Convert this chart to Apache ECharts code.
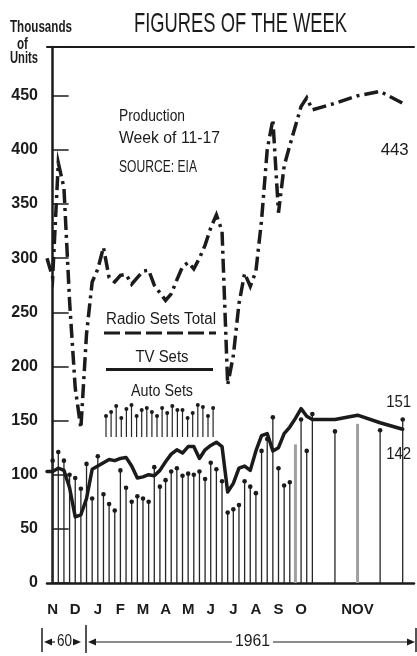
<!DOCTYPE html>
<html>
<head>
<meta charset="utf-8">
<title>Figures of the Week</title>
<script src="https://cdn.jsdelivr.net/npm/echarts@6.0.0/dist/echarts.min.js"></script>
<style>
  html, body { margin: 0; padding: 0; background: #ffffff; }
  #chart { width: 417px; height: 656px; }
</style>
</head>
<body>
<div id="chart"></div>
<script>
// Weekly production in thousands of units, first week of November 1960
// through the week of November 11-17, 1961 (source: EIA).
const radioSets = [
  300, 282, 388, 365, 260, 180, 143, 230, 278, 290, 310, 282,
  278, 284, 285, 276, 282, 288, 289, 275, 268, 261, 267, 280,
  292, 296, 290, 300, 312, 328, 340, 325, 183, 210, 258, 286,
  274, 288, 335, 400, 428, 342, 385, 404, 422, 440, 448, 437,
  443, 450, 454, 443
];
const tvSets = [
  103, 103, 106, 104, 88, 61, 63, 78, 105, 108, 111, 114,
  113, 115, 116, 108, 97, 98, 100, 99, 104, 112, 119, 123,
  120, 126, 126, 115, 123, 127, 130, 126, 84, 92, 106, 108,
  104, 122, 136, 138, 122, 125, 138, 144, 152, 161, 154, 151,
  151, 155, 148, 142
];
const autoSets = [
  null, 113, 121, 113, 100, 97, 87, 110, 78, 117, 82, 73,
  67, 104, 88, 75, 80, 78, 75, 107, 89, 95, 103, 106,
  99, 101, 100, 103, 96, 111, 105, 94, 65, 68, 72, 94,
  89, 83, 122, 133, 153, 106, 90, 93, 128, 151, 122, 156,
  140, 147, 141, 151
];

// Month tick labels and the week each one sits under.
const monthLabels = ['N', 'D', 'J', 'F', 'M', 'A', 'M', 'J', 'J', 'A', 'S', 'O', 'NOV'];
const monthWeeks = [1, 5, 9, 13, 17, 21, 25, 29, 33, 37, 41, 45, 49];

// The most recent weeks are spread out on a stretched part of the time axis.
const STRETCHED_WEEKS = 4;
const STRETCH_FACTOR = 4;
// Stems printed lighter, without a head.
const lightStems = [44, 49];

const regularCount = radioSets.length - STRETCHED_WEEKS;
function slotOf(i) {
  if (i < regularCount) return i - 1;
  return (regularCount - 2) + (i - regularCount + 1) * STRETCH_FACTOR;
}
const labelBySlot = {};
monthWeeks.forEach((w, k) => { labelBySlot[slotOf(w)] = monthLabels[k]; });

const INK = '#1b1b1b';
const FONT = "'Liberation Sans', Arial, sans-serif";

const measureCtx = document.createElement('canvas').getContext('2d');
// Text squeezed horizontally to a given width, like the narrow type of the printed chart.
function fitText(str, x, y, size, width, align, weight) {
  weight = weight || 'normal';
  measureCtx.font = weight + ' ' + size + 'px ' + FONT;
  const w = measureCtx.measureText(str).width;
  return {
    type: 'text', x: x, y: y, scaleX: width / w, z: 50,
    style: {
      text: str, fontSize: size, fontFamily: FONT, fontWeight: weight, fill: INK,
      align: align || 'left', verticalAlign: 'middle',
      textAlign: align || 'left', textVerticalAlign: 'middle'
    }
  };
}
function hLine(x1, x2, y, width, dash) {
  return { type: 'line', z: 50, shape: { x1: x1, y1: y, x2: x2, y2: y },
    style: { stroke: INK, lineWidth: width, lineDash: dash || null } };
}
function vLine(x, y1, y2, width) {
  return { type: 'line', z: 50, shape: { x1: x, y1: y1, x2: x, y2: y2 },
    style: { stroke: INK, lineWidth: width } };
}
function arrowHead(tipX, y, dir) {
  const back = tipX - dir * 8;
  return { type: 'polygon', z: 50, shape: { points: [[tipX, y], [back, y - 3.5], [back, y + 3.5]] },
    style: { fill: INK } };
}

function renderStem(params, api) {
  const v = api.value(1);
  if (v == null || isNaN(v)) return null;
  const x = api.value(0);
  const base = api.coord([x, 0]);
  const top = api.coord([x, v]);
  const light = lightStems.indexOf(params.dataIndex) >= 0;
  const children = [{
    type: 'line',
    shape: { x1: base[0], y1: base[1], x2: top[0], y2: top[1] },
    style: { stroke: light ? '#a0a0a0' : '#262626', lineWidth: light ? 3 : 1.3 }
  }];
  if (!light) {
    children.push({ type: 'circle', shape: { cx: top[0], cy: top[1], r: 2.3 }, style: { fill: INK } });
  }
  return { type: 'group', children: children };
}

// Decorations: title, unit caption, notes, legend and the year bracket.
function staticGraphics() {
  const g = [];
  g.push(fitText('FIGURES OF THE WEEK', 240.5, 24, 28, 213, 'center'));
  g.push(fitText('Thousands', 41, 28, 16, 62, 'center', 'bold'));
  g.push(fitText('of', 22.5, 45, 16, 11, 'center', 'bold'));
  g.push(fitText('Units', 24, 59, 16, 28, 'center', 'bold'));

  g.push(fitText('Production', 119, 116.5, 16, 66, 'left'));
  g.push(fitText('Week of 11-17', 119, 139, 16, 101, 'left'));
  g.push(fitText('SOURCE: EIA', 119, 167.5, 16, 78, 'left'));

  g.push(fitText('Radio Sets Total', 161, 320, 16, 110, 'center'));
  g.push(hLine(104, 216, 333, 3, [16, 5]));
  g.push(fitText('TV Sets', 162, 358, 16, 53, 'center'));
  g.push(hLine(106, 213, 369.5, 3));
  g.push(fitText('Auto Sets', 162, 392, 16, 62, 'center'));
  const iconTops = [12, 8, 2, 14, 5, 1, 12, 6, 4, 8, 12, 4, 9, 2, 6, 6, 14, 9, 1, 3, 12, 4];
  iconTops.forEach((t, k) => {
    const x = 106 + k * 5.1;
    g.push({ type: 'line', z: 50, shape: { x1: x, y1: 437, x2: x, y2: 404 + t },
      style: { stroke: '#262626', lineWidth: 1.2 } });
    g.push({ type: 'circle', z: 50, shape: { cx: x, cy: 404 + t, r: 2 }, style: { fill: INK } });
  });

  // 1960 / 1961 bracket under the month letters
  g.push(vLine(42, 628, 652, 1.5));
  g.push(arrowHead(44, 642, -1));
  g.push(hLine(50, 55, 642, 1.2));
  g.push(fitText('60', 64.5, 642, 16, 15, 'center'));
  g.push(arrowHead(81, 642, 1));
  g.push(vLine(86, 625, 653, 1.5));
  g.push(arrowHead(88, 642, -1));
  g.push(hLine(95, 232, 642, 1.2));
  g.push(fitText('1961', 252.5, 642, 16, 35, 'center'));
  g.push(hLine(273, 408, 642, 1.2));
  g.push(arrowHead(415, 642, 1));
  g.push(vLine(416, 628, 652, 1.5));
  return g;
}

const pairs = arr => arr.map((v, i) => [slotOf(i), v]);

const chart = echarts.init(document.getElementById('chart'), null, { renderer: 'canvas' });
const option = {
  animation: false,
  backgroundColor: '#ffffff',
  grid: { left: 47, right: -3, top: 47, bottom: 73, containLabel: false },
  xAxis: [{
    type: 'value', min: -1, max: 64, interval: 1,
    axisLine: { show: true, lineStyle: { color: INK, width: 2.5 } },
    axisTick: { show: false },
    splitLine: { show: false },
    axisLabel: {
      margin: 19, fontFamily: FONT, fontWeight: 'bold', fontSize: 15, color: INK,
      showMinLabel: true, showMaxLabel: true,
      formatter: v => labelBySlot[v] || ''
    }
  }, {
    type: 'value', position: 'top', min: -1, max: 64,
    axisLine: { show: true, lineStyle: { color: INK, width: 2 } },
    axisTick: { show: false }, axisLabel: { show: false }, splitLine: { show: false }
  }],
  yAxis: {
    type: 'value', min: 0, max: 495, interval: 50,
    axisLine: { show: true, lineStyle: { color: INK, width: 2.5 } },
    axisTick: { show: true, inside: true, length: 16, lineStyle: { color: INK, width: 1.5 } },
    splitLine: { show: false },
    axisLabel: {
      margin: 9, fontFamily: FONT, fontWeight: 'bold', fontSize: 16, color: INK,
      formatter: v => (v % 50 === 0 ? String(v) : '')
    }
  },
  series: [
    {
      name: 'Auto Sets', type: 'custom', xAxisIndex: 0, yAxisIndex: 0,
      renderItem: renderStem, data: pairs(autoSets), z: 2
    },
    {
      name: 'TV Sets', type: 'line', xAxisIndex: 0, yAxisIndex: 0,
      data: pairs(tvSets), showSymbol: false, symbol: 'none', z: 3,
      lineStyle: { color: INK, width: 3.5, join: 'round', cap: 'round' }
    },
    {
      name: 'Radio Sets Total', type: 'line', xAxisIndex: 0, yAxisIndex: 0,
      data: pairs(radioSets), showSymbol: false, symbol: 'none', z: 4,
      lineStyle: { color: INK, width: 3.5, type: [14, 5, 3, 5], cap: 'butt', join: 'miter' }
    }
  ],
  graphic: { elements: staticGraphics() }
};
chart.setOption(option);

// Value tags at the latest week, placed next to the end of each mark.
const last = radioSets.length - 1;
const at = (arr) => chart.convertToPixel({ xAxisIndex: 0, yAxisIndex: 0 }, [slotOf(last), arr[last]]);
const pR = at(radioSets), pT = at(tvSets), pA = at(autoSets);
const tags = [
  fitText(String(radioSets[last]), pR[0] - 8, pR[1] + 47, 16, 28, 'center'),
  fitText(String(autoSets[last]), pA[0] - 4, pA[1] - 16.5, 16, 25, 'center'),
  fitText(String(tvSets[last]), pT[0] - 4, pT[1] + 25, 16, 25, 'center')
];
chart.setOption({ graphic: { elements: staticGraphics().concat(tags) } });
</script>
</body>
</html>
